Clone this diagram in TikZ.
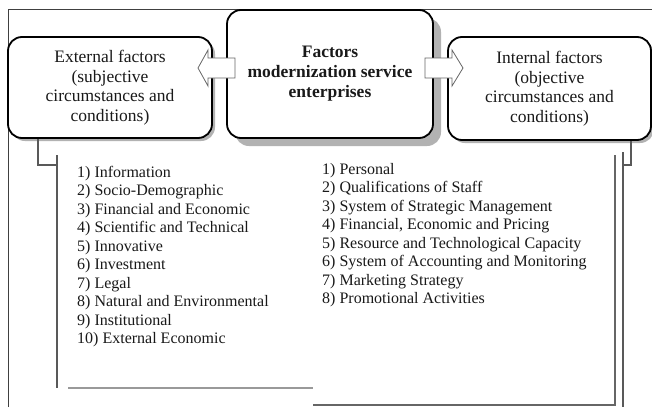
\documentclass[tikz,border=0pt]{standalone}
\usepackage{fontspec}
\setmainfont{Liberation Serif}
\usetikzlibrary{shadows}
\begin{document}
\begin{tikzpicture}[x=1pt,y=-1pt,
  factorbox/.style={draw=black, line width=1.8pt, rounded corners=14pt, fill=white,
    align=center, inner sep=0pt, font=\fontsize{17.5}{19.5}\selectfont, text=black!90},
  boxshadow/.style={drop shadow={shadow xshift=#1, shadow yshift=-#1, fill=gray!60, opacity=1}},
  blockarrow/.style={draw=black!60, line width=0.8pt, fill=white},
  framline/.style={draw=black!75, line width=0.8pt},
  bracketline/.style={draw=black!65, line width=1.1pt},
  greyline/.style={draw=black!40, line width=2.4pt},
  darkgreyline/.style={draw=black!60, line width=2.4pt},
  listtext/.style={align=left, inner sep=0pt, anchor=north west,
    font=\fontsize{16}{18.45}\selectfont, text=black!90}
]
\useasboundingbox[fill=white] (0,0) rectangle (652,407);
% outer frame
\draw[framline] (8,407) -- (8,9) -- (652,9);
% boxes
\node[factorbox, boxshadow=3pt, minimum width=204pt, minimum height=101pt] (ext) at (110,87.5)
  {External factors\\(subjective\\circumstances and\\conditions)};
\node[factorbox, boxshadow=8pt, minimum width=206pt, minimum height=128pt, font=\bfseries\fontsize{17.5}{20}\selectfont] (cen) at (330,74)
  {Factors\\modernization service\\enterprises};
\node[factorbox, boxshadow=3pt, minimum width=203pt, minimum height=103pt] (int) at (549.5,88.5)
  {Internal factors\\(objective\\circumstances and\\conditions)};
% block arrows
\draw[blockarrow] (235,58) -- (208,58) -- (208,50) -- (198,68) -- (208,86) -- (208,78) -- (235,78) -- cycle;
\draw[blockarrow] (425,58) -- (452,58) -- (452,50) -- (463,68) -- (452,86) -- (452,78) -- (425,78) -- cycle;
% lists
\node[listtext] (extlist) at (77,166)
  {1) Information\\2) Socio-Demographic\\3) Financial and Economic\\4) Scientific and Technical\\5) Innovative\\6) Investment\\7) Legal\\8) Natural and Environmental\\9) Institutional\\10) External Economic};
\node[listtext] (intlist) at (322,163)
  {1) Personal\\2) Qualifications of Staff\\3) System of Strategic Management\\4) Financial, Economic and Pricing\\5) Resource and Technological Capacity\\6) System of Accounting and Monitoring\\7) Marketing Strategy\\8) Promotional Activities};
% left bracket
\coordinate (lb) at (38,165);
\coordinate (lv) at (57,165);
\draw[bracketline] (ext.south -| lb) -- (lb) -- (lv);
\draw[bracketline] (57,155) -- (57,388);
\draw[greyline] (68,388) -- (313,388);
% right bracket
\coordinate (rb) at (631,165);
\coordinate (rv) at (623,165);
\draw[bracketline] (int.south -| rb) -- (rb) -- (rv);
\draw[bracketline] (623,152) -- (623,407);
\draw[darkgreyline] (615,155) -- (615,405) -- (313,405);
\end{tikzpicture}
\end{document}
